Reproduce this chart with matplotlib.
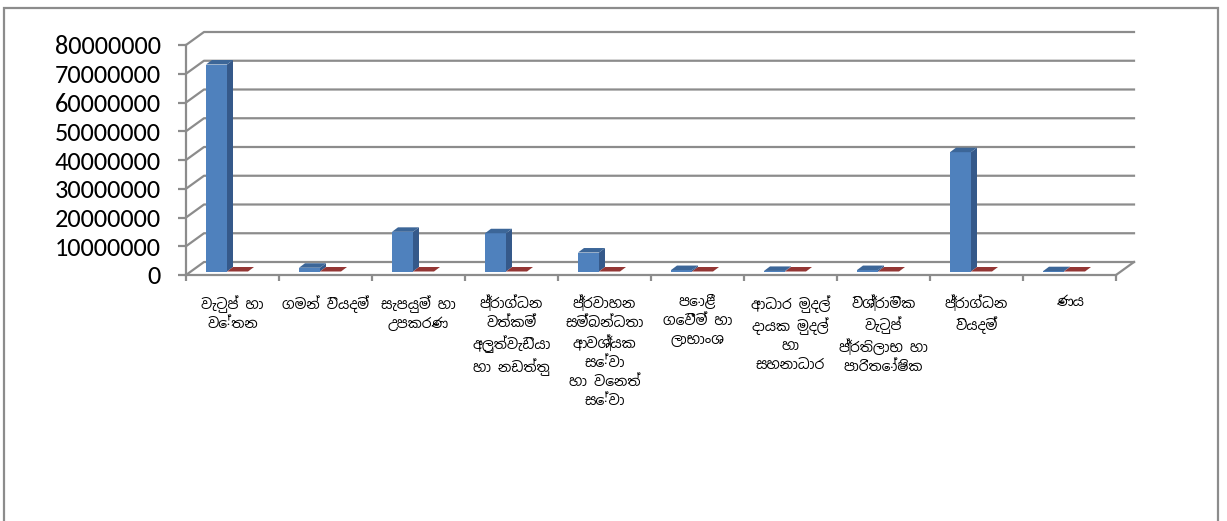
import matplotlib
matplotlib.use("Agg")
from matplotlib import pyplot as plt
from matplotlib.patches import Polygon, Rectangle
import numpy as np

categories = [
    "වැටුප් හා\nවේතන",
    "ගමන් වියදම්",
    "සැපයුම් හා\nඋපකරණ",
    "ප්‍රාග්ධන\nවත්කම්\nඅලුත්වැඩියා\nහා නඩත්තු",
    "ප්‍රවාහන\nසම්බන්ධතා\nආවශ්‍යක\nසේවා\nහා වෙනත්\nසේවා",
    "පොළී\nගෙවීම් හා\nලාභාංශ",
    "ආධාර මුදල්\nදායක මුදල්\nහා\nසහනාධාර",
    "විශ්‍රාමික\nවැටුප්\nප්‍රතිලාභ හා\nපාරිතෝෂික",
    "ප්‍රාග්ධන\nවියදම්",
    "ණය",
]
series_blue = [72000000, 1300000, 13800000, 13300000, 6600000, 500000, 200000, 500000, 41500000, 100000]
series_red = [0, 0, 0, 0, 0, 0, 0, 0, 0, 0]
y_ticks = [0, 10000000, 20000000, 30000000, 40000000, 50000000, 60000000, 70000000, 80000000]

# pixels to data units, the axes are 930 x 230 px
px_x = 10 / 930
px_y = 80000000 / 230

GRID = "#8c8c8c"
LABEL_FONTS = ["Noto Sans Sinhala", "Abhaya Libre", "Yaldevi Colombo", "DejaVu Sans"]
wall_dx, wall_dy = 18 * px_x, 13 * px_y
bar_dx, bar_dy = 6 * px_x, 4.5 * px_y
bar_w = 21 * px_x
bar_base = 3.5 * px_y
bar_start = 20 * px_x


def draw_bars(ax, xs, values, front, side, top):
    ax.bar(xs, values, bar_w, bottom=bar_base, align="edge", color=front, clip_on=False, zorder=3)
    for x, v in zip(xs, values):
        y = v + bar_base
        ax.add_patch(Polygon([(x + bar_w, bar_base), (x + bar_w + bar_dx, bar_base + bar_dy),
                              (x + bar_w + bar_dx, y + bar_dy), (x + bar_w, y)],
                             color=side, lw=0, clip_on=False, zorder=3))
        ax.add_patch(Polygon([(x, y), (x + bar_dx, y + bar_dy),
                              (x + bar_w + bar_dx, y + bar_dy), (x + bar_w, y)],
                             color=top, lw=0, clip_on=False, zorder=3))


fig = plt.figure(figsize=(12.27, 5.21), dpi=100)
ax = fig.add_axes([186 / 1227, (521 - 275) / 521, 930 / 1227, 230 / 521])
ax.set_xlim(0, 10)
ax.set_ylim(0, 80000000)

# outer frame of the chart, its bottom edge is cut off by the picture
fig.add_artist(Rectangle((4 / 1227, -0.05), 1214 / 1227, 0.05 + (521 - 8) / 521, transform=fig.transFigure,
                         fill=False, ec="#8c8c8c", lw=1.6))

# back wall lines and the floor edge
for v in y_ticks:
    ax.plot([0, wall_dx, 10 + wall_dx], [v, v + wall_dy, v + wall_dy], color=GRID, lw=1.6, clip_on=False, zorder=1)
ax.plot([10, 10 + wall_dx], [0, wall_dy], color=GRID, lw=1.6, clip_on=False, zorder=1)

xs = np.arange(10)
draw_bars(ax, xs + bar_start, series_blue, "#4f81bd", "#35598a", "#3c6698")
draw_bars(ax, xs + bar_start + bar_w, series_red, "#c0504d", "#7d2c2a", "#943634")

for s in ["top", "right"]:
    ax.spines[s].set_visible(False)
for s in ["left", "bottom"]:
    ax.spines[s].set_color(GRID)
    ax.spines[s].set_linewidth(1.6)

ax.set_yticks(y_ticks)
ax.set_yticklabels([str(v) for v in y_ticks], fontfamily=["Carlito", "Lato"], fontsize=19, color="black")
ax.tick_params(axis="y", length=6, width=1.6, color=GRID, pad=12)

ax.set_xticks(np.arange(11))
ax.set_xticklabels([""] * 11)
ax.tick_params(axis="x", length=4.5, width=1.6, color=GRID)
for x, label in zip(xs + 0.5, categories):
    ax.annotate(label, (x, 0), xytext=(0, -14.5), textcoords="offset points", ha="center", va="top",
                fontsize=10, linespacing=1.36, color="black", family=LABEL_FONTS, annotation_clip=False)

fig.savefig("out.png", dpi=100)
